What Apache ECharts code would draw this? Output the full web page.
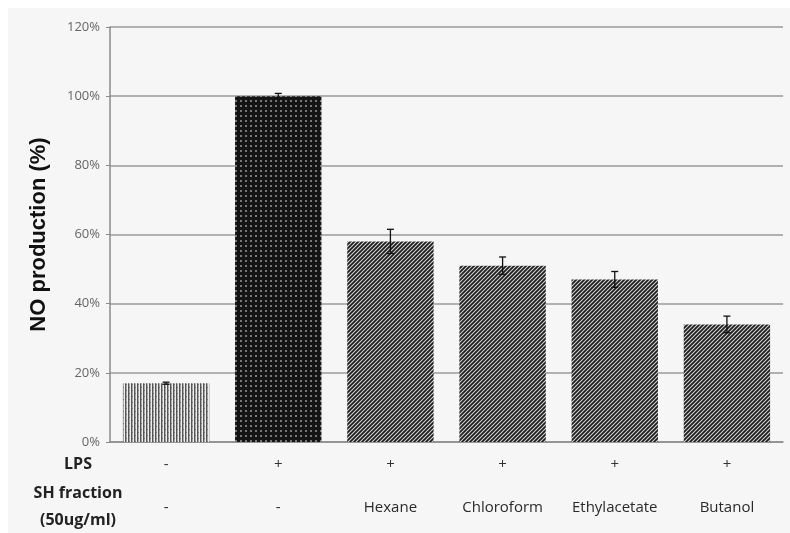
<!DOCTYPE html>
<html>
<head>
<meta charset="utf-8">
<script src="https://cdn.jsdelivr.net/npm/echarts@6/dist/echarts.min.js"></script>
<style>
  body { margin: 0; background: #fff; }
  #chart { position: absolute; left: 8px; top: 8px; width: 782px; height: 525px; background: #f6f6f6; }
</style>
</head>
<body>
<div id="chart"></div>
<script>
// data
const lpsRow = ["-", "+", "+", "+", "+", "+"];
const fractionRow = ["-", "-", "Hexane", "Chloroform", "Ethylacetate", "Butanol"];
const noValues = [0.17, 1.0, 0.58, 0.51, 0.47, 0.34];
const noErrors = [0.003, 0.008, 0.035, 0.025, 0.023, 0.024];
const yTicks = [0, 0.2, 0.4, 0.6, 0.8, 1.0, 1.2];

// fill patterns like the old excel ones
function makeTile(size, draw) {
  const c = document.createElement("canvas");
  c.width = size; c.height = size;
  draw(c.getContext("2d"), size);
  return { image: c, repeat: "repeat" };
}
const stripes = makeTile(6, (g, s) => {
  g.fillStyle = "#a8a8a8"; g.fillRect(0, 0, s, s);
  g.fillStyle = "#555"; g.fillRect(0, 0, 1, s); g.fillRect(3, 0, 1, s);
  g.fillStyle = "#eee"; g.fillRect(2, 0, 1, s); g.fillRect(5, 0, 1, s);
  g.fillStyle = "#777"; g.fillRect(1, 1, 1, 1); g.fillRect(4, 4, 1, 1);
});
const dots = makeTile(5, (g, s) => {
  g.fillStyle = "#141414"; g.fillRect(0, 0, s, s);
  g.fillStyle = "#777"; g.fillRect(2, 2, 2, 2);
});
const hatch = makeTile(4, (g, s) => {
  g.fillStyle = "#d8d8d8"; g.fillRect(0, 0, s, s);
  g.strokeStyle = "#1e1e1e"; g.lineWidth = 1.8;
  g.beginPath();
  g.moveTo(-1, s + 1); g.lineTo(s + 1, -1);
  g.moveTo(-s - 1, s + 1); g.lineTo(1, -1);
  g.moveTo(s - 1, s + 1); g.lineTo(2 * s + 1, -1);
  g.stroke();
});
const fills = [stripes, dots, hatch, hatch, hatch, hatch];

const chart = echarts.init(document.getElementById("chart"));

const labelFont = "'Open Sans', 'Noto Sans', sans-serif";

const option = {
  animation: false,
  grid: { left: 102, right: 7, top: 19, bottom: 91 },
  xAxis: [
    {
      type: "category",
      data: lpsRow,
      axisLine: { lineStyle: { color: "#8a8a8a", width: 1.5 } },
      axisTick: { length: 5, lineStyle: { color: "#8a8a8a" } },
      axisLabel: { margin: 15, fontSize: 15, color: "#333", fontFamily: labelFont }
    },
    {
      type: "category",
      position: "bottom",
      data: fractionRow,
      axisLine: { show: false },
      axisTick: { show: false },
      axisLabel: { margin: 58, fontSize: 15, color: "#2a2a2a", fontFamily: labelFont, interval: 0 }
    }
  ],
  yAxis: {
    type: "value",
    min: 0,
    max: 1.2,
    interval: 0.2,
    name: "NO production (%)",
    nameLocation: "middle",
    nameGap: 60,
    nameTextStyle: { fontSize: 22, fontWeight: "bold", color: "#111", fontFamily: "'Liberation Sans', Arial, sans-serif" },
    axisLine: { show: true, lineStyle: { color: "#8a8a8a", width: 1.5 } },
    axisTick: { show: true, length: 4, inside: false, lineStyle: { color: "#8a8a8a" } },
    splitLine: { lineStyle: { color: "#9a9a9a", width: 1.5 } },
    axisLabel: {
      margin: 10,
      fontSize: 13,
      color: "#666",
      fontFamily: labelFont,
      formatter: v => (yTicks.includes(Math.round(v * 10) / 10) ? Math.round(v * 100) + "%" : "")
    }
  },
  graphic: [
    { type: "text", x: 70, y: 456, style: { text: "LPS", font: "bold 16px 'Open Sans', sans-serif", fill: "#222", textAlign: "center", textVerticalAlign: "middle" } },
    { type: "text", x: 70, y: 499, style: { text: "SH fraction\n(50ug/ml)", font: "bold 16px 'Open Sans', sans-serif", fill: "#222", textAlign: "center", textVerticalAlign: "middle", lineHeight: 27 } }
  ],
  series: [
    {
      type: "bar",
      barWidth: "77%",
      data: noValues.map((v, i) => ({ value: v, itemStyle: { color: fills[i] } }))
    },
    {
      type: "custom",
      z: 5,
      data: noValues.map((v, i) => [i, v, noErrors[i]]),
      renderItem: (params, api) => {
        const x = api.value(0);
        const v = api.value(1);
        const e = api.value(2);
        const top = api.coord([x, v + e]);
        const bot = api.coord([x, v - e]);
        const cap = 3.5;
        const style = { stroke: "#111", lineWidth: 1.3 };
        return {
          type: "group",
          children: [
            { type: "line", shape: { x1: top[0], y1: top[1], x2: bot[0], y2: bot[1] }, style },
            { type: "line", shape: { x1: top[0] - cap, y1: top[1], x2: top[0] + cap, y2: top[1] }, style },
            { type: "line", shape: { x1: bot[0] - cap, y1: bot[1], x2: bot[0] + cap, y2: bot[1] }, style }
          ]
        };
      }
    }
  ]
};

option && chart.setOption(option);
</script>
</body>
</html>
